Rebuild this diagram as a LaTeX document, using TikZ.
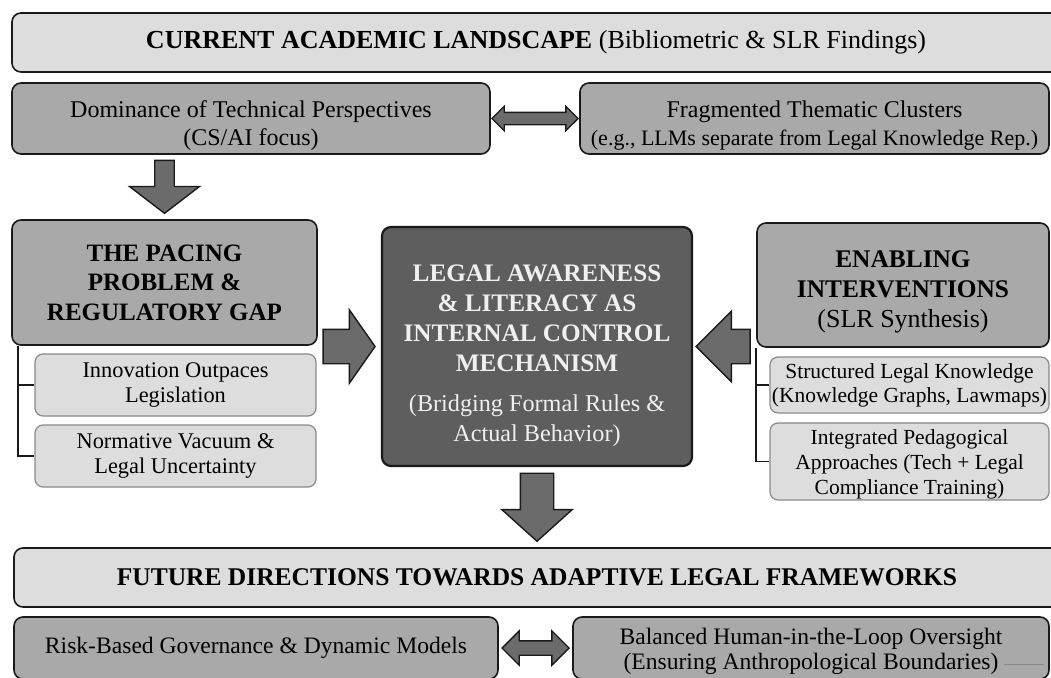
\documentclass[tikz,border=0pt]{standalone}
\usepackage{fontspec}
\setmainfont{Liberation Serif}
\definecolor{paper}{HTML}{DDDDDD}
\definecolor{stone}{HTML}{A9A9A9}
\definecolor{slate}{HTML}{5E5E5E}
\definecolor{ink}{HTML}{6B6B6B}
\definecolor{edge}{HTML}{1A1A1A}
\definecolor{subedge}{HTML}{8A8A8A}
\usetikzlibrary{calc, positioning, shapes.arrows}

\begin{document}
\begin{tikzpicture}[x=1pt, y=-1pt,
  box/.style={draw=edge, line width=1.6pt, rounded corners=9pt, inner sep=0pt, align=center},
  headbox/.style={box, fill=paper, font=\fontsize{26}{30}\selectfont},
  midbox/.style={box, fill=stone, font=\fontsize{23.6}{28}\selectfont},
  bigbox/.style={box, fill=stone, font=\fontsize{25}{29.5}\selectfont\bfseries},
  subbox/.style={draw=subedge, line width=1.2pt, fill=paper, rounded corners=8pt,
                 inner sep=0pt, align=center, font=\fontsize{22.4}{25}\selectfont},
  blockarrow/.style={single arrow, draw=edge, fill=ink, line width=1.4pt},
  twinarrow/.style={double arrow, draw=edge, fill=ink, line width=1.4pt},
  bracket/.style={draw=edge, line width=1.6pt}]
\useasboundingbox (0,0) rectangle (1051,677);
\clip (0,0) rectangle (1051,677);
\fill[white] (0,0) rectangle (1051,677);

% current landscape
\node[headbox, minimum width=1048pt, minimum height=59pt] (landscape) at (536,42.5)
  {\textbf{CURRENT ACADEMIC LANDSCAPE} (Bibliometric \& SLR Findings)};
\node[midbox, minimum width=478pt, minimum height=71pt, font=\fontsize{24}{28}\selectfont]
  (dom) at (251,118.5) {\rule{0pt}{31pt}Dominance of Technical Perspectives\\(CS/AI focus)};
\node[midbox, minimum width=469pt, minimum height=71pt, font=\fontsize{24}{28}\selectfont]
  (frag) at (814.5,118.5)
  {\rule{0pt}{31pt}Fragmented Thematic Clusters\\\fontsize{22}{28}\selectfont(e.g., LLMs separate from Legal Knowledge Rep.)};
\node[twinarrow, inner sep=5.5pt, minimum height=86pt, minimum width=23pt, double arrow head extend=6pt]
  (twin1) at ($(dom.east)!0.5!(frag.west)$) {};

% pacing problem
\node[bigbox, minimum width=305pt, minimum height=125pt] (pacing) at (164.5,282.5)
  {THE PACING\\PROBLEM \&\\REGULATORY GAP};
\node[subbox, minimum width=281pt, minimum height=62pt] (gap1) at (175.5,385)
  {Innovation Outpaces\\Legislation};
\node[subbox, minimum width=281pt, minimum height=62pt] (gap2) at (175.5,456)
  {Normative Vacuum \&\\Legal Uncertainty};
\draw[bracket] ($(pacing.south west)+(7,0)$) |- (gap2.west);
\draw[bracket] ($(pacing.south west)+(7,0)$) |- (gap1.west);
\node[blockarrow, anchor=tip, inner sep=9pt, minimum height=53pt, minimum width=70pt,
  single arrow head extend=25pt, single arrow tip angle=105, shape border rotate=270]
  (down1) at ($(pacing.north)+(0,-5)$) {};

% core
\node[box, fill=slate, line width=2.2pt, text=white!94!black, minimum width=310pt,
  minimum height=239pt, font=\fontsize{25.2}{30}\selectfont\bfseries] (core) at (537,346.5)
  {\rule{0pt}{35pt}LEGAL AWARENESS\\\& LITERACY AS\\INTERNAL CONTROL\\MECHANISM\\[10pt]
   \mdseries\fontsize{24.2}{28}\selectfont (Bridging Formal Rules \&\\
   \mdseries\fontsize{24.2}{28}\selectfont Actual Behavior)};
\node[blockarrow, anchor=tip, inner sep=16.5pt, minimum height=52pt, minimum width=72pt,
  single arrow head extend=19.5pt, single arrow tip angle=110]
  (right1) at ($(core.west)+(-5,0)$) {};

% interventions
\node[bigbox, minimum width=292pt, minimum height=124pt, font=\fontsize{25.4}{30}\selectfont\bfseries]
  (enabling) at (903,285)
  {\rule{0pt}{31pt}ENABLING\\INTERVENTIONS\\\mdseries\fontsize{26}{29}\selectfont (SLR Synthesis)};
\node[subbox, minimum width=279pt, minimum height=56pt, font=\fontsize{21.5}{24}\selectfont]
  (tool1) at (909.5,385) {Structured Legal Knowledge\\(Knowledge Graphs, Lawmaps)};
\node[subbox, minimum width=279pt, minimum height=77pt, font=\fontsize{21.5}{25}\selectfont]
  (tool2) at (909.5,461.5) {\rule{0pt}{20.7pt}Integrated Pedagogical\\Approaches (Tech + Legal\\Compliance Training)};
\draw[bracket] (enabling.south west) |- (tool2.west);
\draw[bracket] (enabling.south west) |- (tool1.west);
\node[blockarrow, anchor=tip, inner sep=16.5pt, minimum height=54pt, minimum width=69pt,
  single arrow head extend=18pt, single arrow tip angle=90, shape border rotate=180]
  (left1) at ($(core.east)+(2,0)$) {};

% future directions
\node[headbox, minimum width=1046pt, minimum height=59pt, font=\fontsize{25.5}{30}\selectfont\bfseries]
  (future) at (537,577.5) {FUTURE DIRECTIONS TOWARDS ADAPTIVE LEGAL FRAMEWORKS};
\node[blockarrow, anchor=tip, inner sep=16pt, minimum height=68pt, minimum width=69pt,
  single arrow head extend=18.5pt, single arrow tip angle=96, shape border rotate=270]
  (down2) at ($(future.north)+(0,-5)$) {};
\node[midbox, minimum width=484pt, minimum height=62pt] (risk) at (256,648)
  {Risk-Based Governance \& Dynamic Models};
\node[midbox, minimum width=476pt, minimum height=62pt, font=\fontsize{23.6}{25}\selectfont]
  (balance) at (811,648)
  {\rule{0pt}{24pt}Balanced Human-in-the-Loop Oversight\\(Ensuring Anthropological Boundaries)};
\node[twinarrow, inner sep=6.5pt, minimum height=67pt, minimum width=33pt, double arrow head extend=10pt]
  (twin2) at ($(risk.east)!0.5!(balance.west)$) {};
\draw[subedge, line width=0.6pt] ($(balance.east)+(-46,16)$) -- ++(40,0);
\end{tikzpicture}
\end{document}
